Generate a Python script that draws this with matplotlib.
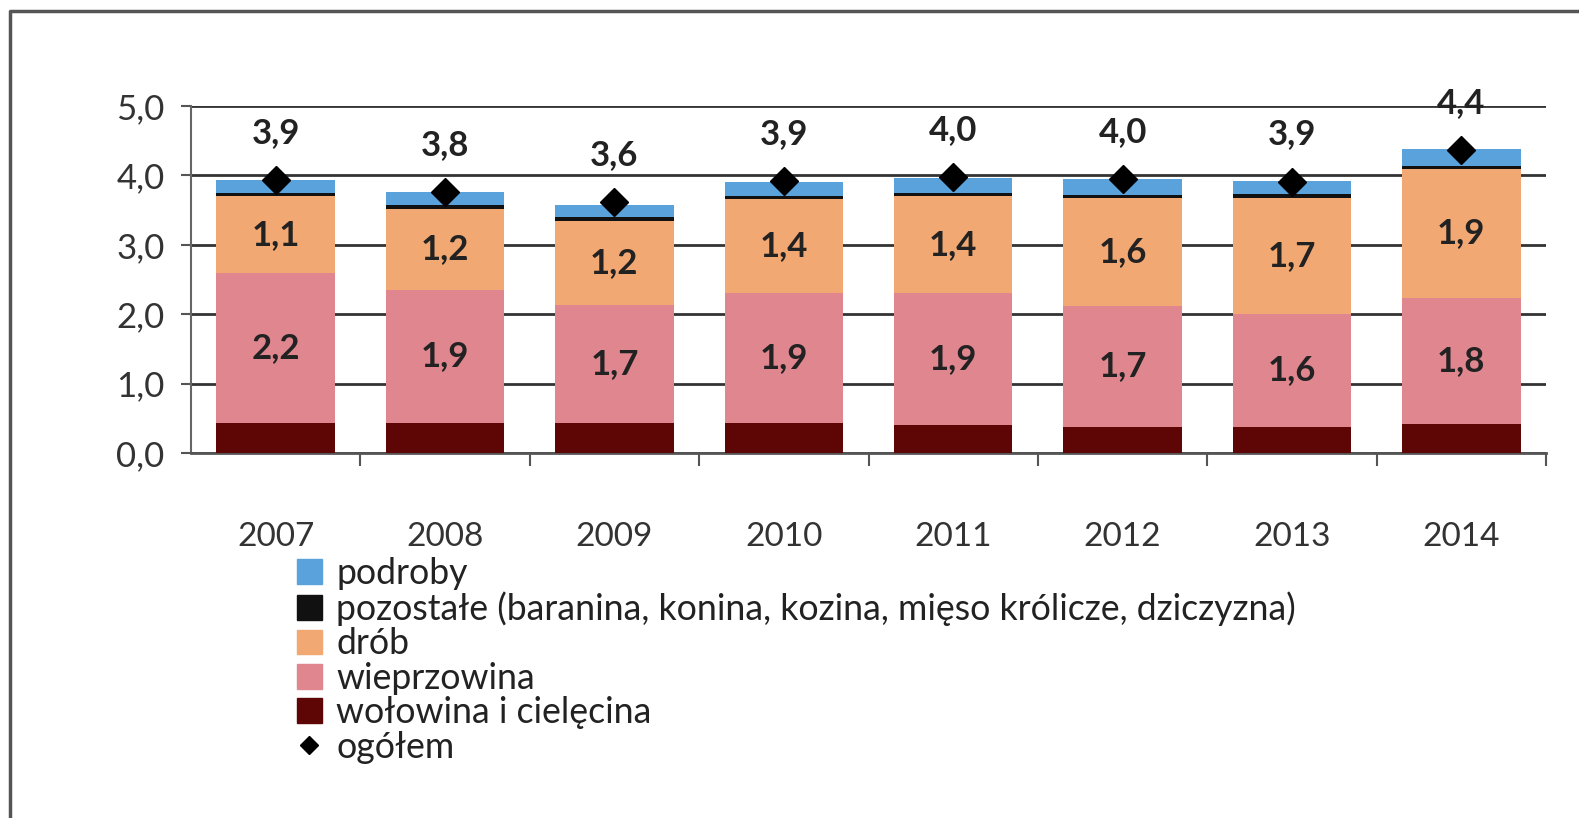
import numpy as np
import matplotlib.pyplot as plt
from matplotlib.patches import Patch
from matplotlib.lines import Line2D

plt.rcParams['font.family'] = ['Lato', 'DejaVu Sans']

years = ['2007', '2008', '2009', '2010', '2011', '2012', '2013', '2014']
wolowina = [0.43, 0.43, 0.43, 0.43, 0.40, 0.38, 0.38, 0.42]
wieprzowina = [2.16, 1.92, 1.70, 1.87, 1.90, 1.74, 1.63, 1.82]
drob = [1.11, 1.17, 1.22, 1.36, 1.40, 1.55, 1.67, 1.85]
pozostale = [0.05, 0.05, 0.05, 0.05, 0.05, 0.05, 0.05, 0.05]
podroby = [0.19, 0.19, 0.18, 0.19, 0.21, 0.23, 0.19, 0.24]
ogolem = [3.93, 3.76, 3.62, 3.92, 3.97, 3.95, 3.91, 4.36]

c_wol = '#5e0606'
c_wiep = '#e0868f'
c_drob = '#f2a872'
c_poz = '#111111'
c_podr = '#5aa2dc'

fmt = lambda v: f'{v:.1f}'.replace('.', ',')

def main():
	fig = plt.figure(figsize=(15.79, 8.18), dpi=100)
	# outer frame: only left and top edges are visible in the scan
	fx, fy = 10 / 1579, 1 - 11 / 818
	fig.lines.append(Line2D([fx, fx, 1.0], [0.0, fy, fy], transform=fig.transFigure,
		color='#555555', lw=2.5))

	ax = fig.add_axes([191 / 1579, 1 - 453 / 818, 1355 / 1579, 347 / 818])
	x = np.arange(len(years))
	w = 0.70

	bottom = np.zeros(len(years))
	stacks = [(wolowina, c_wol), (wieprzowina, c_wiep), (drob, c_drob),
		(pozostale, c_poz), (podroby, c_podr)]
	mids = {}
	for vals, col in stacks:
		vals = np.array(vals)
		ax.bar(x, vals, w, bottom=bottom, color=col, zorder=3)
		mids[col] = bottom + vals / 2
		bottom = bottom + vals

	ax.plot(x, ogolem, 'D', color='black', ms=14, zorder=5)

	for i in range(len(years)):
		ax.text(x[i], mids[c_wiep][i], fmt(wieprzowina[i]), ha='center', va='center',
			fontsize=25, fontweight='bold', color='#222222', zorder=6)
		ax.text(x[i], mids[c_drob][i], fmt(drob[i]), ha='center', va='center',
			fontsize=25, fontweight='bold', color='#222222', zorder=6)
		ax.text(x[i], ogolem[i] + 0.68, fmt(ogolem[i]), ha='center', va='center',
			fontsize=25, fontweight='bold', color='#222222', zorder=6)

	ax.set_xlim(-0.5, len(years) - 0.5)
	ax.set_ylim(0, 5)
	ax.set_yticks(np.arange(0, 5.1, 1.0))
	ax.set_yticklabels([fmt(v) for v in np.arange(0, 5.1, 1.0)], fontsize=25, color='#333333')
	ax.yaxis.grid(True, color='#333333', lw=2, zorder=1)

	ax.set_xticks(x)
	ax.set_xticklabels(years, fontsize=24, color='#333333')
	ax.tick_params(axis='x', length=0, pad=50)
	ax.set_xticks(np.arange(0.5, len(years), 1.0), minor=True)
	ax.tick_params(axis='x', which='minor', length=9, width=1.5, color='#555555', direction='out')
	ax.tick_params(axis='y', length=7, width=1.5, color='#555555', pad=12)

	for s in ['top', 'right']:
		ax.spines[s].set_visible(False)
	ax.spines['left'].set_color('#666666')
	ax.spines['left'].set_linewidth(1.5)
	ax.spines['bottom'].set_color('#555555')
	ax.spines['bottom'].set_linewidth(2)

	handles = [Patch(color=c_podr), Patch(color=c_poz), Patch(color=c_drob),
		Patch(color=c_wiep), Patch(color=c_wol),
		Line2D([], [], marker='D', color='black', ls='', ms=9)]
	labels = ['podroby', 'pozostałe (baranina, konina, kozina, mięso królicze, dziczyzna)',
		'drób', 'wieprzowina', 'wołowina i cielęcina', 'ogółem']
	fig.legend(handles, labels, loc='upper left', bbox_to_anchor=(297 / 1579, 1 - 557 / 818),
		frameon=False, fontsize=25.7, handlelength=0.7, handleheight=0.7,
		handletextpad=0.4, labelspacing=0.04, borderaxespad=0, borderpad=0,
		labelcolor='#222222')

	fig.savefig('out.png', dpi=100)

if __name__ == "__main__":
	main()
